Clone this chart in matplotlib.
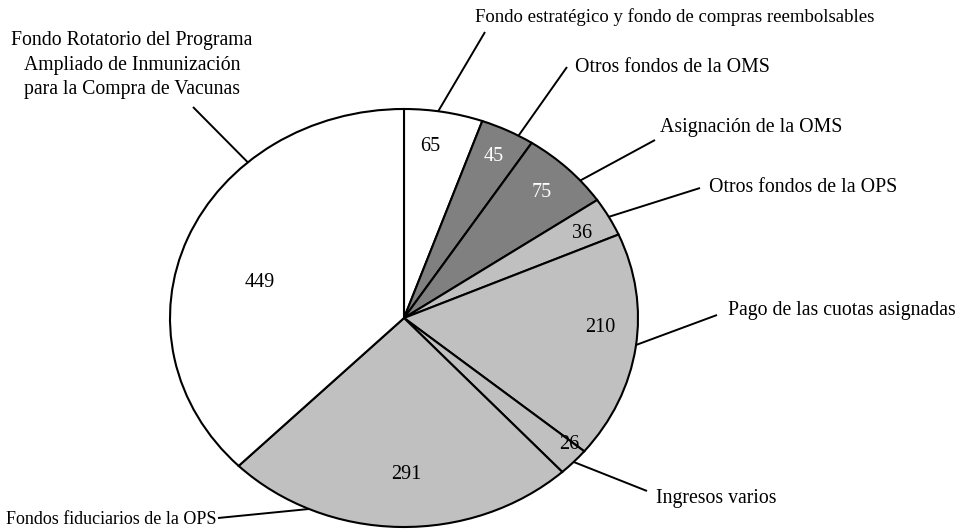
import numpy as np
import matplotlib.pyplot as plt

plt.rcParams['font.family'] = ['Liberation Serif', 'DejaVu Serif']

# Data: funds (millions) in clockwise order starting at 12 o'clock
values = [65, 45, 75, 36, 210, 26, 291, 449]
labels = [
    "Fondo estratégico y fondo de compras reembolsables",
    "Otros fondos de la OMS",
    "Asignación de la OMS",
    "Otros fondos de la OPS",
    "Pago de las cuotas asignadas",
    "Ingresos varios",
    "Fondos fiduciarios de la OPS",
    "Fondo Rotatorio del Programa\nAmpliado de Inmunización\npara la Compra de Vacunas",
]
colors = ['white', '#808080', '#808080', '#c0c0c0', '#c0c0c0', '#c0c0c0', '#c0c0c0', 'white']
value_colors = ['black', 'white', 'white', 'black', 'black', 'black', 'black', 'black']

# Layout (pixels of the 960x531 image)
W, H = 960, 531
cx, cy = 404, 318        # pie centre
rx, ry = 234, 209        # horizontal / vertical radius
val_r = [0.83, 0.86, 0.84, 0.86, 0.84, 0.93, 0.75, 0.64]
val_dt = [2, 0, 0, -1, 5, 3, 2, 7]          # angle tweak for value labels (deg)
attach = [0.43, 0.72, 0.7, 0.5, 0.49, 0.5, 0.76, 0.69]   # where leader lines meet each wedge
text_xy = [(675, 17), (575, 67), (660, 127), (709, 188),
           (728, 311), (656, 498), (216, 520), (132, 65)]
text_ha = ['center', 'left', 'left', 'left', 'left', 'left', 'right', 'center']
text_size = [13.5, 14.3, 14.3, 14.3, 14.2, 14.2, 13, 14.2]
line_start = [(485, 32), (567, 67), (655, 140), (700, 188),
              (717, 315), (647, 491), (218, 518), (193, 107)]

fig = plt.figure(figsize=(W / 100, H / 100), dpi=100)
ax = fig.add_axes([0, 0, 1, 1])

wedges, _ = ax.pie(values, colors=colors, startangle=90, counterclock=False,
                   wedgeprops=dict(edgecolor='black', linewidth=1.5))

# stretch the unit pie into the ellipse of the reference
ax.set_aspect('auto')
ax.set_xlim(-cx / rx, (W - cx) / rx)
ax.set_ylim(-(H - cy) / ry, cy / ry)
ax.axis('off')


def to_data(px, py):
    return (px - cx) / rx, (cy - py) / ry


for i, w in enumerate(wedges):
    t1, t2 = w.theta1, w.theta2
    # value label
    mid = np.deg2rad((t1 + t2) / 2 + val_dt[i])
    ax.text(val_r[i] * np.cos(mid), val_r[i] * np.sin(mid), str(values[i]),
            ha='center', va='center', fontsize=14.5, color=value_colors[i])
    # leader line from category label to the wedge rim
    a = np.deg2rad(t2 - attach[i] * (t2 - t1))
    x0, y0 = to_data(*line_start[i])
    ax.plot([x0, np.cos(a)], [y0, np.sin(a)],
            color='black', lw=1.4, solid_capstyle='butt')
    tx, ty = to_data(*text_xy[i])
    ax.text(tx, ty, labels[i], ha=text_ha[i], va='center', fontsize=text_size[i],
            multialignment='center', linespacing=1.42)

fig.savefig('out.png', dpi=100)
